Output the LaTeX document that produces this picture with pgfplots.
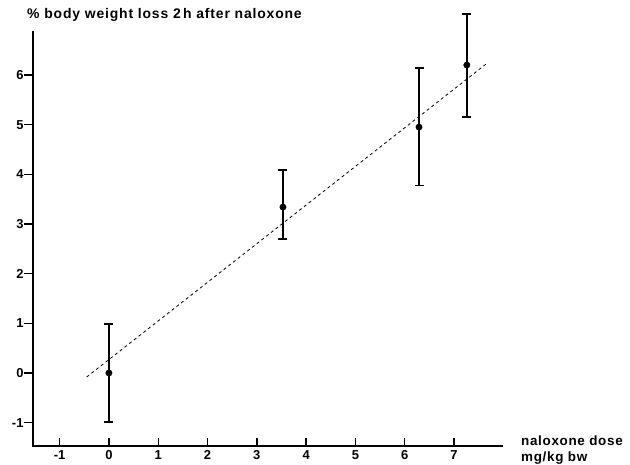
\documentclass[border=0pt]{standalone}
\usepackage{pgfplots}
\pgfplotsset{compat=1.18}
\usepackage{fontspec}
\setmainfont{Liberation Sans}
\begin{document}
\begin{tikzpicture}
\useasboundingbox (0,0) rectangle (630bp,465bp);
\begin{axis}[
  at={(33bp,19bp)}, anchor=south west,
  x=49.3bp, y=49.67bp,
  xmin=-1.54, xmax=7.97, ymin=-1.47, ymax=6.86,
  axis x line=bottom, axis y line=left,
  axis line style={line width=2.6bp, -, line cap=rect},
  xtick={-1,0,1,2,3,4,5,6,7}, ytick={-1,0,1,2,3,4,5,6},
  xticklabels={-1,0,1,2,3,4,5,6,7},
  hide obscured x ticks=false, hide obscured y ticks=false,
  tick align=inside,
  major tick length=8bp,
  xtick style={line width=1.4bp, black},
  ytick style={line width=1.3bp, black, xshift=-9bp},
  /pgf/number format/assume math mode=true,
  ticklabel style={font=\fontsize{13}{13}\selectfont\bfseries},
  yticklabel style={xshift=-6bp},
  xticklabel style={yshift=-1bp},
  clip=false,
]
\addplot[black, dash pattern=on 3bp off 3bp, line width=0.8bp] coordinates {(-0.45,-0.08) (7.65,6.22)};
\addplot[black, only marks, mark=*, mark size=3.2bp,
  error bars/.cd, y dir=both, y explicit,
  error bar style={line width=1.4bp, black},
  error mark=|, error mark options={line width=1.4bp, mark size=4.5bp, black}]
  coordinates {
  (0,0) +- (0,0.985)
  (3.53,3.34) += (0,0.75) -= (0,0.64)
  (6.29,4.95) += (0,1.19) -= (0,1.18)
  (7.26,6.20) += (0,1.03) -= (0,1.05)
  };
\end{axis}
\node[anchor=west, inner sep=0pt, font=\fontsize{14}{14}\selectfont\bfseries\addfontfeatures{LetterSpace=6}] at (27bp,450bp) {\% body weight loss 2\,h after naloxone};
\node[anchor=north west, inner sep=0pt, align=left, font=\fontsize{13.5}{16}\selectfont\bfseries\addfontfeatures{LetterSpace=5}] at (521bp,29bp) {naloxone dose\\mg/kg bw};
\end{tikzpicture}
\end{document}
